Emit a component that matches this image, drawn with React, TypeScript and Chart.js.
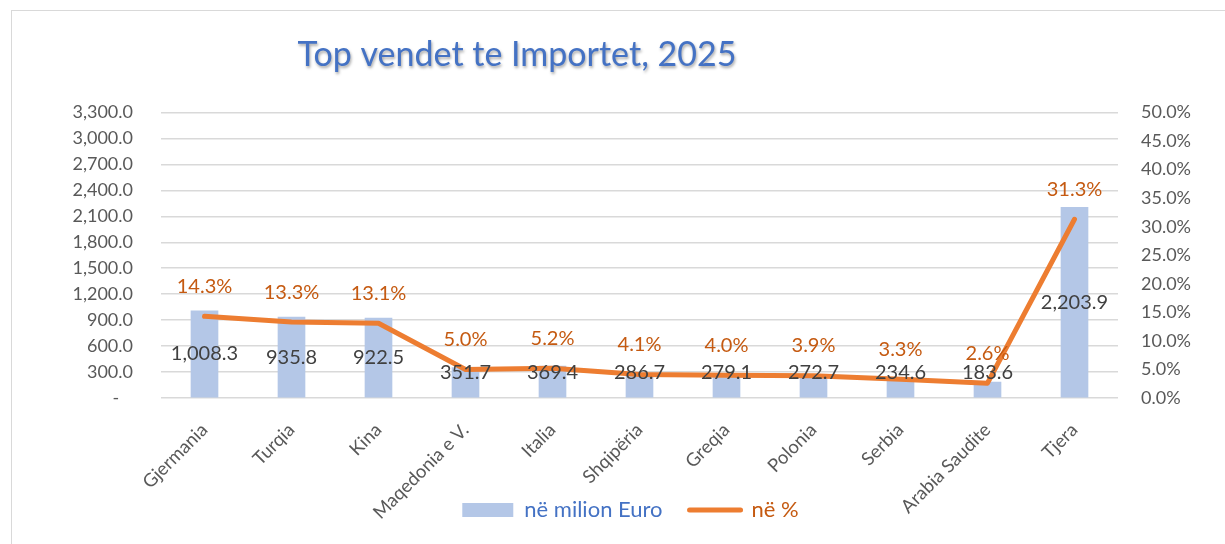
import React, { useEffect, useRef } from "react";
import { Chart, registerables } from "chart.js";

Chart.register(...registerables);

const TITLE = "Top vendet te Importet, 2025";
const categories = [
  "Gjermania",
  "Turqia",
  "Kina",
  "Maqedonia e V.",
  "Italia",
  "Shqipëria",
  "Greqia",
  "Polonia",
  "Serbia",
  "Arabia Saudite",
  "Tjera",
];
const valuesEuro = [1008.3, 935.8, 922.5, 351.7, 369.4, 286.7, 279.1, 272.7, 234.6, 183.6, 2203.9];
const valuesPct = [14.3, 13.3, 13.1, 5.0, 5.2, 4.1, 4.0, 3.9, 3.3, 2.6, 31.3];
const seriesNames = ["në milion Euro", "në %"];

const FONT = "Lato, 'Open Sans', sans-serif";
const BAR_COLOR = "#B4C7E7";
const LINE_COLOR = "#ED7D31";
const PCT_TEXT = "#C55A11";
const BLUE_TEXT = "#4472C4";
const AXIS_TEXT = "#595959";
const GRID = "#D9D9D9";

const fmtEuro = (v: number) =>
  v.toLocaleString("en-US", { minimumFractionDigits: 1, maximumFractionDigits: 1 });

const titlePlugin = {
  id: "customTitle",
  afterDraw(chart: any) {
    const ctx = chart.ctx;
    ctx.save();
    ctx.font = `34px ${FONT}`;
    ctx.fillStyle = BLUE_TEXT;
    ctx.textAlign = "center";
    ctx.textBaseline = "alphabetic";
    ctx.shadowColor = "rgba(0,0,0,0.35)";
    ctx.shadowBlur = 3;
    ctx.shadowOffsetX = 1;
    ctx.shadowOffsetY = 2;
    ctx.fillText(TITLE, 505, 55);
    ctx.restore();
  },
};

// legend is laid out at the top (so the rotated x labels keep the full bottom band)
// and then moved down below the axis labels, as in the reference
const legendMovePlugin = {
  id: "legendMove",
  afterLayout(chart: any) {
    const lg = chart.legend;
    if (!lg) return;
    const h = lg.height;
    lg.top = 461;
    lg.bottom = 461 + h;
  },
};

const labelPlugin = {
  id: "valueLabels",
  afterDatasetsDraw(chart: any) {
    const ctx = chart.ctx;
    ctx.save();
    ctx.textAlign = "center";
    ctx.textBaseline = "middle";
    const barMeta = chart.getDatasetMeta(0);
    ctx.font = `20px ${FONT}`;
    ctx.fillStyle = "#404040";
    barMeta.data.forEach((bar: any, i: number) => {
      const p = bar.getProps(["x", "y", "base"], true);
      let y = (p.y + p.base) / 2;
      y = Math.min(y, p.base - 25);
      ctx.fillText(fmtEuro(valuesEuro[i]), p.x, y);
    });
    const lineMeta = chart.getDatasetMeta(1);
    ctx.fillStyle = PCT_TEXT;
    lineMeta.data.forEach((pt: any, i: number) => {
      const p = pt.getProps(["x", "y"], true);
      ctx.fillText(valuesPct[i].toFixed(1) + "%", p.x, p.y - 30);
    });
    ctx.restore();
  },
};

export default function App() {
  const canvasRef = useRef<HTMLCanvasElement | null>(null);

  useEffect(() => {
    if (!canvasRef.current) return;
    const chart = new Chart(canvasRef.current, {
      type: "bar",
      data: {
        labels: categories,
        datasets: [
          {
            type: "bar",
            label: seriesNames[0],
            data: valuesEuro,
            backgroundColor: BAR_COLOR,
            barThickness: 27,
            yAxisID: "y",
            order: 1,
          } as any,
          {
            type: "line",
            label: seriesNames[1],
            data: valuesPct,
            borderColor: LINE_COLOR,
            backgroundColor: LINE_COLOR,
            borderWidth: 5,
            pointRadius: 0,
            tension: 0,
            borderCapStyle: "round",
            borderJoinStyle: "round",
            yAxisID: "y1",
            order: 0,
          } as any,
        ],
      },
      options: {
        responsive: false,
        animation: false,
        layout: { padding: { top: 42.5, left: 24, right: 0, bottom: 0 } },
        plugins: {
          title: { display: false },
          tooltip: { enabled: false },
          legend: {
            display: true,
            position: "top",
            labels: {
              font: { family: FONT, size: 22 },
              usePointStyle: true,
              pointStyleWidth: 51,
              boxHeight: 14,
              padding: 27,
              generateLabels: () => [
                {
                  text: seriesNames[0],
                  fillStyle: BAR_COLOR,
                  strokeStyle: BAR_COLOR,
                  lineWidth: 0,
                  pointStyle: "rect",
                  fontColor: BLUE_TEXT,
                  hidden: false,
                  datasetIndex: 0,
                } as any,
                {
                  text: seriesNames[1],
                  fillStyle: LINE_COLOR,
                  strokeStyle: LINE_COLOR,
                  lineWidth: 5,
                  lineCap: "round",
                  pointStyle: "line",
                  fontColor: PCT_TEXT,
                  hidden: false,
                  datasetIndex: 1,
                } as any,
              ],
            },
          },
        },
        scales: {
          x: {
            grid: { display: false, drawTicks: false },
            border: { display: false },
            ticks: {
              color: AXIS_TEXT,
              font: { family: FONT, size: 18.5 },
              maxRotation: 45,
              minRotation: 45,
              autoSkip: false,
              padding: 21,
            },
            afterFit(scale: any) {
              scale.height = 146;
            },
          },
          y: {
            position: "left",
            min: 0,
            max: 3300,
            grid: { color: GRID, lineWidth: 1.5, drawTicks: false },
            border: { display: false },
            ticks: {
              stepSize: 300,
              autoSkip: false,
              color: AXIS_TEXT,
              font: { family: FONT, size: 18 },
              padding: 28,
              callback: (v: any) => (Number(v) === 0 ? "-   " : fmtEuro(Number(v))),
            },
            afterFit(scale: any) {
              scale.width = 125;
            },
          },
          y1: {
            position: "right",
            min: 0,
            max: 50,
            grid: { drawOnChartArea: false, drawTicks: false },
            border: { display: false },
            ticks: {
              stepSize: 5,
              autoSkip: false,
              color: AXIS_TEXT,
              font: { family: FONT, size: 18 },
              padding: 23,
              callback: (v: any) => Number(v).toFixed(1) + "%",
            },
            afterFit(scale: any) {
              scale.width = 107;
            },
          },
        },
      } as any,
      plugins: [labelPlugin, titlePlugin, legendMovePlugin],
    });
    return () => chart.destroy();
  }, []);

  return (
    <div
      style={{
        position: "absolute",
        left: 11,
        top: 10,
        width: 1213,
        height: 533,
        borderTop: "1px solid #D9D9D9",
        borderLeft: "1px solid #D9D9D9",
        overflow: "hidden",
        background: "#fff",
      }}
    >
      <canvas ref={canvasRef} width={1213} height={533} style={{ display: "block" }} />
    </div>
  );
}
